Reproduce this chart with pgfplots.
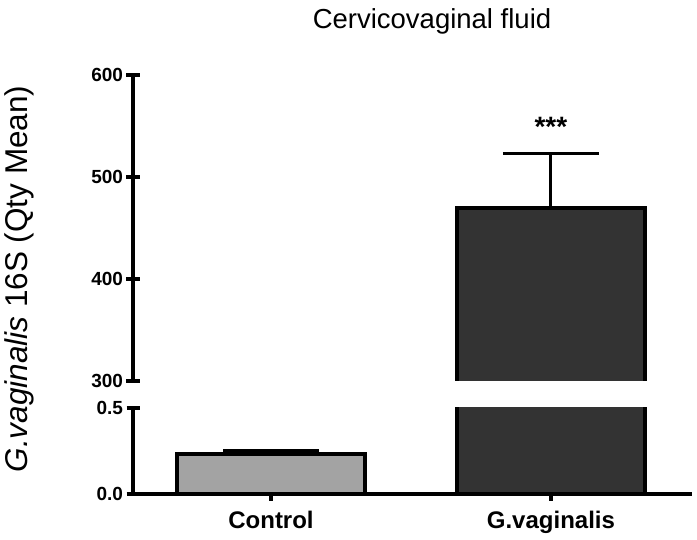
\documentclass[border=0pt]{standalone}
\usepackage{fontspec}
\setmainfont{Liberation Sans}
\usepackage{pgfplots}
\pgfplotsset{compat=1.18}

\definecolor{ctrlgray}{HTML}{A3A3A3}
\definecolor{gvdark}{HTML}{333333}

\pgfplotsset{
  brk/.style={
    scale only axis,
    width=559pt,
    xmin=-0.493, xmax=1.504,
    tick align=outside,
    major tick length=13pt,
    tick style={line width=3.5pt, black},
    yticklabel style={font=\fontsize{19}{19}\selectfont\bfseries,
      /pgf/number format/assume math mode=true},
    clip=true,
  },
  barstyle/.style={draw=black, line width=4pt, bar width=188pt, bar shift=0pt},
  errstyle/.style={error bars/.cd, y dir=plus, y explicit,
    error bar style={line width=3pt, black},
    error mark options={rotate=90, mark size=48pt, line width=3pt, black}},
}

\begin{document}
\begin{tikzpicture}[x=1pt,y=1pt]
% upper part of the broken axis
\begin{axis}[brk, at={(133pt,159pt)}, anchor=south west,
  height=306pt,
  axis y line=left, axis x line=none,
  axis line style={-, line width=4pt},
  ymin=300, ymax=600,
  ytick={300,400,500,600},
  ybar,
]
% bar body (open at the break), then its outline on three sides
\addplot[barstyle, draw=gvdark, fill=gvdark, errstyle]
  coordinates {(1,470) +- (0,53.5)};
\addplot[sharp plot, black, line width=4pt, line join=miter, mark=none]
  coordinates {(0.6642,290) (0.6642,470) (1.3358,470) (1.3358,290)};
\node[font=\fontsize{28}{28}\selectfont\bfseries] at (axis cs:1,549) {***};
\end{axis}

% lower part of the broken axis (G.vaginalis bar runs past the top, clipped)
\begin{axis}[brk, at={(133pt,46pt)}, anchor=south west,
  height=86pt,
  axis y line=left, axis x line=bottom,
  axis line style={-, line width=4pt},
  x axis line style={-}, y axis line style={-},
  ymin=0, ymax=0.5,
  ytick={0,0.5},
  yticklabel style={/pgf/number format/fixed, /pgf/number format/fixed zerofill,
    /pgf/number format/precision=1},
  xtick={0,1},
  xticklabels={Control, G.vaginalis},
  xtick style={/pgfplots/major tick length=7pt},
  xticklabel style={font=\fontsize{24}{24}\selectfont\bfseries, yshift=-1pt},
  ybar,
]
\addplot[barstyle, fill=ctrlgray, errstyle]
  coordinates {(0,0.233) +- (0,0.022)};
\addplot[barstyle, fill=gvdark]
  coordinates {(1,0.7)};
\end{axis}

\node[font=\fontsize{27.5}{27.5}\selectfont] at (432pt,519pt) {Cervicovaginal fluid};
\node[rotate=90, font=\fontsize{31.5}{31.5}\selectfont] at (19pt,261pt)
  {\textit{G.vaginalis} 16S (Qty Mean)};

\pgfresetboundingbox
\useasboundingbox (0,0) rectangle (697pt,540pt);
\end{tikzpicture}
\end{document}
